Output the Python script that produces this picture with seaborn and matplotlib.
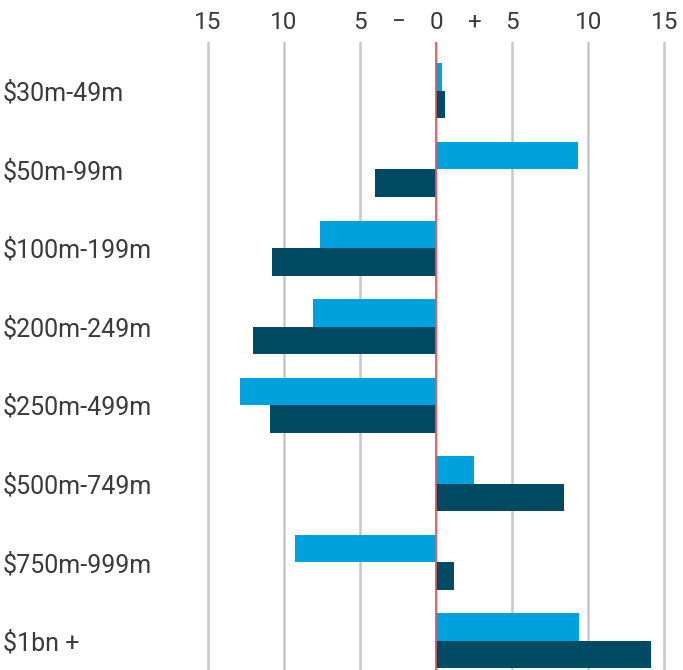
import pandas as pd
import numpy as np
import matplotlib.pyplot as plt
import seaborn as sns
from matplotlib.ticker import FixedLocator, FixedFormatter

# change by film budget band, two series
bands = ["$30m-49m", "$50m-99m", "$100m-199m", "$200m-249m",
         "$250m-499m", "$500m-749m", "$750m-999m", "$1bn +"]
series_a = [0.4, 9.3, -7.6, -8.1, -12.9, 2.5, -9.3, 9.4]
series_b = [0.6, -4.0, -10.8, -12.0, -10.9, 8.4, 1.2, 14.1]
series_names = ["A", "B"]

major_ticks = [-15, -10, -5, 0, 5, 10, 15]
major_labels = ["15", "10", "5", "0", "5", "10", "15"]
minor_ticks = [-2.5, 2.5]
minor_labels = ["\u2212", "+"]

light_blue = "#00a2de"
dark_blue = "#004a63"


def build_frame():
    df = pd.DataFrame({
        "band": bands * 2,
        "value": series_a + series_b,
        "series": [series_names[0]] * len(bands) + [series_names[1]] * len(bands),
    })
    return df


def draw(df):
    sns.set_style("white")
    plt.rcParams['font.family'] = ['Roboto', 'DejaVu Sans']

    fig = plt.figure(figsize=(6.83, 6.70), dpi=100)
    ax = fig.add_axes([0.293, 0.0, 0.691, 0.937])

    sns.barplot(data=df, x="value", y="band", hue="series", orient="h",
                palette=[light_blue, dark_blue], width=0.7, dodge=True,
                saturation=1, legend=False, linewidth=0, ax=ax, zorder=3)

    ax.set_xlim(-15.5, 15.5)
    ax.set_ylim(7.37, -0.62)

    ax.xaxis.set_major_locator(FixedLocator(major_ticks))
    ax.xaxis.set_major_formatter(FixedFormatter(major_labels))
    ax.xaxis.set_minor_locator(FixedLocator(minor_ticks))
    ax.xaxis.set_minor_formatter(FixedFormatter(minor_labels))
    ax.xaxis.tick_top()
    ax.tick_params(axis="x", which="both", length=0, labelsize=17.5,
                   labelcolor="#3a3a3a", pad=6)
    # left-aligned category labels near the figure edge
    ax.tick_params(axis="y", length=0, labelsize=18, labelcolor="#3a3a3a",
                   pad=142)
    for lab in ax.get_yticklabels():
        lab.set_horizontalalignment("left")

    ax.grid(axis="x", which="major", color="#c8c8c8", linewidth=1.8, zorder=0)
    ax.grid(axis="y", visible=False)
    ax.axvline(0, color="#e8535a", linewidth=1.2, zorder=4)

    ax.set_xlabel("")
    ax.set_ylabel("")
    sns.despine(ax=ax, left=True, bottom=True, top=True, right=True)

    fig.savefig("out.png", dpi=100, facecolor="white")


if __name__ == '__main__':
    frame = build_frame()
    draw(frame)
